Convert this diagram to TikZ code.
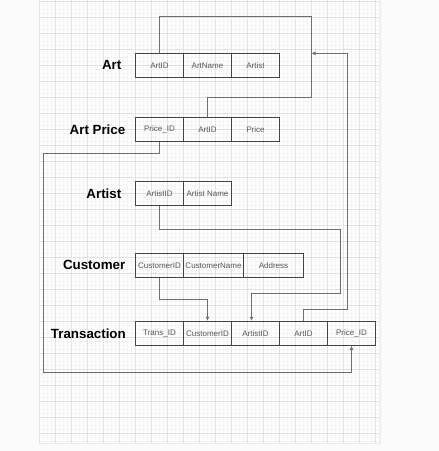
\documentclass[tikz,border=0pt]{standalone}
\usepackage{fontspec}
\setmainfont{Liberation Sans}
\usetikzlibrary{arrows.meta}
\definecolor{pagebg}{RGB}{251,251,251}
\definecolor{minorline}{RGB}{244,244,244}
\definecolor{majorline}{RGB}{226,226,226}
\definecolor{cellline}{RGB}{68,68,68}
\definecolor{celltext}{RGB}{85,85,85}
\definecolor{connline}{RGB}{110,110,110}
\tikzset{
  cell/.style={draw=cellline, line width=0.75pt, minimum width=36pt, minimum height=18pt,
    inner sep=0pt, text=celltext, font=\fontsize{6}{7}\selectfont},
  widecell/.style={cell, minimum width=45pt},
  table/.style={anchor=east, font=\fontsize{10}{12}\selectfont\bfseries},
  conn/.style={draw=connline, line width=0.75pt},
  tip/.style={conn, -{Latex[length=3pt,width=3pt]}}
}
\begin{document}
\begin{tikzpicture}[x=0.75pt,y=-0.75pt]
\useasboundingbox (0,0) rectangle (439,451);
\fill[pagebg] (0,0) rectangle (439,451);
\fill[black!8] (39,1) rectangle (381,444);
\fill[white] (38,0) rectangle (380,443);

% grid
\begin{scope}
\clip (38,0) rectangle (380,443);
\foreach \i in {0,...,85} \draw[minorline,line width=0.5pt] ({39.7+4*\i},0) -- ({39.7+4*\i},443);
\foreach \j in {0,...,110} \draw[minorline,line width=0.5pt] (38,{1.3+4*\j}) -- (380,{1.3+4*\j});
\foreach \i in {0,...,21} \draw[majorline,line width=0.6pt] ({39.7+16*\i},0) -- ({39.7+16*\i},443);
\foreach \j in {0,...,27} \draw[majorline,line width=0.6pt] (38,{1.3+16*\j}) -- (380,{1.3+16*\j});
\end{scope}

% Art
\node[table] (artlabel) at (126,65.3) {Art};
\node[cell] (art1) at (159.5,65.3) {ArtID};
\node[cell] (art2) at (207.5,65.3) {ArtName};
\node[cell] (art3) at (255.5,65.3) {Artist};

% Art Price
\node[table] (aplabel) at (130,129.3) {Art Price};
\node[cell] (ap1) at (159.5,129.3) {Price\_ID};
\node[cell] (ap2) at (207.5,129.3) {ArtID};
\node[cell] (ap3) at (255.5,129.3) {Price};

% Artist
\node[table] (artistlabel) at (126,193.3) {Artist};
\node[cell] (artist1) at (159.5,193.3) {ArtistID};
\node[cell] (artist2) at (207.5,193.3) {Artist Name};

% Customer
\node[table] (custlabel) at (130,265.3) {Customer};
\node[cell] (cust1) at (159.5,265.3) {CustomerID};
\node[widecell] (cust2) at (213.5,265.3) {CustomerName};
\node[widecell] (cust3) at (273.5,265.3) {Address};

% Transaction
\node[table] (trlabel) at (130.5,333.3) {Transaction};
\node[cell] (tr1) at (159.5,333.3) {Trans\_ID};
\node[cell] (tr2) at (207.5,333.3) {CustomerID};
\node[cell] (tr3) at (255.5,333.3) {ArtistID};
\node[cell] (tr4) at (303.5,333.3) {ArtID};
\node[cell] (tr5) at (351.5,333.3) {Price\_ID};

% bends
\coordinate (artbend) at (311.5,97.3);
\coordinate (artjoin) at (311.5,53.3);
\coordinate (artright) at (347.5,53.3);
\coordinate (priceleft) at (43.5,372.7);
\coordinate (artistright) at (340,293.3);

% links
\draw[conn] (art1.north) -- ++(0,-36) -| (artbend) -| (ap2.north);
\draw[tip] (tr4.north) -- ++(0,-11.3) -| (artright) -- (artjoin);
\draw[tip] (ap1.south) -- ++(0,12) -| (priceleft) -| (tr5.south);
\draw[tip] (artist1.south) -- ++(0,24) -| (artistright) -| ([xshift=-3pt]tr3.north);
\draw[tip] (cust1.south) -- ++(0,22) -| (tr2.north);
\end{tikzpicture}
\end{document}
